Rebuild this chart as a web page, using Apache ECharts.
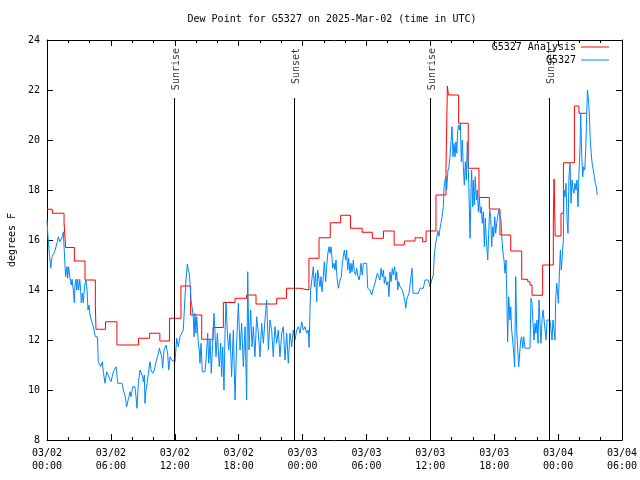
<!DOCTYPE html>
<html><head><meta charset="utf-8">
<script src="https://cdn.jsdelivr.net/npm/echarts/dist/echarts.min.js"></script>
<style>html,body{margin:0;padding:0;background:#fff}#c{width:640px;height:480px}</style>
</head><body><div id="c"></div>
<script>
// ---- data ----
const titleText = 'Dew Point for G5327 on 2025-Mar-02 (time in UTC)';
const xTickLabels = ['03/02\n00:00','03/02\n06:00','03/02\n12:00','03/02\n18:00','03/03\n00:00','03/03\n06:00','03/03\n12:00','03/03\n18:00','03/04\n00:00','03/04\n06:00'];
const seriesNames = ['G5327 Analysis', 'G5327'];
// hours since 03/02 00:00 UTC
const analysisHours = [0,0.5,1.6,1.75,2.57,3.57,4.54,4.6,5.5,6.57,8.6,9.64,10.6,11.5,12.58,13.49,14.53,15.6,16.56,17.66,18.75,19.63,21.57,22.5,23.76,24.6,25.55,26.6,27.58,28.5,29.6,30.55,31.6,32.6,33.56,34.56,35.28,35.6,36.53,37.47,37.6,37.7,38.66,39.56,40.57,41.54,42.54,43.55,44.58,45.15,45.36,45.55,46.55,47.55,47.62,47.68,47.72,48.27,48.5,49.53,49.96,50.7];
const analysisDew = [17.23,17.07,16.7,15.7,15.16,14.4,13.4,12.43,12.73,11.8,12.07,12.27,11.96,12.87,14.16,13.0,12.03,12.5,13.5,13.67,13.8,13.44,13.67,14.07,14.0,15.27,16.09,16.69,16.99,16.47,16.31,16.07,16.36,15.8,15.96,16.09,15.93,16.36,17.8,18.87,22.16,21.8,20.67,18.87,17.7,17.24,16.2,15.56,14.43,14.33,14.2,13.79,15.0,16.73,18.44,17.2,16.16,17.07,19.09,21.36,21.07,21.07];
// observations: [hour, dew point]
const obsPoints = [
[0,16.8],[0.09,16.13],[0.19,15.6],[0.25,15.33],[0.35,14.87],[0.47,15.33],[0.59,15.33],[0.72,15.53],[0.97,15.93],[1.06,16.13],
[1.22,15.93],[1.31,16.0],[1.44,16.13],[1.53,16.33],[1.66,15.24],[1.75,14.53],[1.88,14.93],[1.94,14.47],[2.03,14.93],[2.16,14.47],
[2.28,14.2],[2.35,14.43],[2.47,14.0],[2.57,13.49],[2.63,14.2],[2.72,14.43],[2.79,14.0],[2.88,14.43],[2.97,14.0],[3.07,14.43],
[3.16,14.0],[3.22,13.49],[3.32,13.87],[3.41,13.49],[3.5,14.0],[3.57,14.27],[3.66,14.4],[3.76,14.0],[3.85,13.2],[3.94,13.4],
[4.04,13.0],[4.16,12.8],[4.35,12.53],[4.54,12.13],[4.73,12.13],[4.82,11.13],[4.91,11.07],[5.04,10.93],[5.2,11.13],[5.29,10.73],
[5.45,10.27],[5.6,10.73],[6.01,10.33],[6.23,10.73],[6.48,10.93],[6.54,10.73],[6.64,10.27],[7.04,10.27],[7.17,10.0],[7.36,9.71],
[7.48,9.33],[7.58,9.53],[7.7,9.73],[7.8,9.93],[7.89,9.73],[8.05,10.13],[8.26,10.13],[8.36,9.73],[8.45,9.27],[8.58,10.27],
[8.73,10.8],[8.89,10.8],[8.98,10.53],[9.05,10.33],[9.14,10.6],[9.2,9.47],[9.3,10.0],[9.42,10.33],[9.52,10.67],[9.67,11.13],
[9.77,10.8],[9.92,10.67],[10.08,10.8],[10.24,11.13],[10.46,11.47],[10.55,11.67],[10.68,11.6],[10.77,11.33],[10.86,10.87],[10.99,11.6],
[11.18,11.8],[11.33,11.47],[11.43,10.8],[11.55,11.33],[11.71,11.2],[12.02,11.13],[12.18,12.07],[12.33,11.73],[12.49,12.13],[12.65,12.07],
[12.8,12.4],[12.96,13.73],[13.05,14.4],[13.18,15.04],[13.27,14.8],[13.36,14.67],[13.43,14.27],[13.52,13.6],[13.62,13.33],[13.74,12.93],
[13.81,12.13],[13.9,13.07],[13.99,12.27],[14.06,12.93],[14.21,11.87],[14.3,11.6],[14.37,11.07],[14.46,11.87],[14.59,10.73],[14.84,10.73],
[15.0,11.6],[15.09,12.27],[15.19,11.07],[15.31,12.0],[15.43,10.67],[15.56,11.87],[15.68,13.07],[15.78,12.27],[15.87,11.33],[16.0,12.27],
[16.18,10.93],[16.31,11.87],[16.4,10.53],[16.5,11.73],[16.62,10.0],[16.72,12.27],[16.81,13.53],[16.94,12.27],[17.06,11.6],[17.19,12.27],
[17.34,10.53],[17.5,12.4],[17.66,9.6],[17.81,11.87],[17.97,13.47],[18.13,11.6],[18.28,12.67],[18.44,10.93],[18.6,12.53],[18.75,9.6],
[18.85,14.73],[18.97,11.6],[19.13,13.2],[19.25,11.73],[19.38,12.53],[19.53,11.33],[19.69,12.93],[19.85,12.27],[20.0,11.33],[20.16,12.67],
[20.32,11.87],[20.47,12.8],[20.63,13.6],[20.79,11.6],[20.94,12.8],[21.1,12.4],[21.25,11.33],[21.41,12.53],[21.57,11.87],[21.72,12.4],
[21.88,11.33],[22.04,12.27],[22.19,12.53],[22.35,11.2],[22.51,12.27],[22.66,11.07],[22.82,12.27],[22.98,11.73],[23.13,12.4],[23.29,12.0],
[23.45,12.4],[23.6,12.53],[23.76,12.27],[23.92,12.73],[24.07,12.4],[24.23,12.53],[24.39,12.27],[24.54,12.4],[24.61,11.7],[24.7,13.27],
[24.76,14.0],[24.89,14.0],[25.01,14.93],[25.11,14.13],[25.23,14.67],[25.33,13.53],[25.42,14.8],[25.51,14.8],[25.64,14.13],[25.73,14.53],
[25.83,13.93],[25.95,14.53],[26.04,15.13],[26.17,14.33],[26.26,14.93],[26.36,15.4],[26.48,15.73],[26.58,15.47],[26.67,15.73],[26.77,15.27],
[26.83,14.87],[26.95,15.07],[27.05,14.8],[27.14,15.2],[27.23,14.53],[27.36,14.07],[27.52,14.4],[27.64,14.53],[27.73,15.07],[27.83,15.33],
[27.92,15.6],[28.05,15.2],[28.14,15.6],[28.24,14.8],[28.33,15.27],[28.46,14.67],[28.55,15.07],[28.64,14.73],[28.77,15.2],[28.86,14.73],
[28.99,14.6],[29.08,14.87],[29.18,14.6],[29.3,14.4],[29.4,14.6],[29.49,15.07],[29.61,14.6],[29.71,15.07],[30.02,15.07],[30.12,14.07],
[30.33,14.0],[30.49,13.8],[30.65,14.07],[30.8,14.27],[30.9,14.33],[31.02,14.67],[31.15,14.73],[31.27,14.4],[31.37,14.87],[31.49,14.53],
[31.59,14.8],[31.68,14.27],[31.77,14.53],[31.9,14.2],[32.02,14.33],[32.12,13.73],[32.21,14.73],[32.31,14.33],[32.43,14.87],[32.52,14.6],
[32.65,14.93],[32.75,14.4],[32.84,14.73],[32.94,14.0],[33.03,14.33],[33.15,14.13],[33.37,14.0],[33.46,13.93],[33.59,13.6],[33.69,13.27],
[33.78,13.6],[33.87,13.73],[34.0,13.87],[34.18,13.87],[34.28,14.87],[34.37,13.87],[34.87,13.87],[35.03,14.07],[35.34,14.07],[35.5,14.4],
[35.81,14.4],[35.97,14.13],[36.13,14.4],[36.28,14.6],[36.37,15.4],[36.5,15.87],[36.6,16.07],[36.69,16.37],[36.81,16.15],[36.91,16.47],
[37.0,16.67],[37.1,16.93],[37.22,17.33],[37.28,18.07],[37.38,18.4],[37.47,18.53],[37.53,18.0],[37.66,18.8],[37.75,18.93],[37.85,19.33],
[37.94,19.4],[38.04,20.53],[38.13,19.33],[38.22,19.87],[38.32,19.33],[38.41,19.93],[38.48,19.47],[38.57,20.33],[38.66,20.6],[38.73,20.4],
[38.82,20.67],[38.91,19.13],[39.0,20.0],[39.1,18.93],[39.19,18.2],[39.29,19.13],[39.38,18.4],[39.47,19.93],[39.6,18.4],[39.73,16.07],
[39.82,18.0],[39.88,18.8],[39.98,17.33],[40.04,18.4],[40.13,17.4],[40.22,18.53],[40.32,17.6],[40.41,18.0],[40.51,17.13],[40.6,17.73],
[40.69,17.07],[40.79,17.33],[40.88,16.67],[40.98,17.13],[41.07,15.73],[41.16,16.87],[41.26,16.0],[41.39,15.2],[41.48,16.27],[41.57,17.2],
[41.67,16.93],[41.76,15.73],[41.86,16.53],[41.95,16.13],[42.05,16.93],[42.14,16.27],[42.23,16.67],[42.33,16.93],[42.42,17.2],[42.54,17.2],
[42.64,16.8],[42.73,16.0],[42.83,15.47],[42.92,15.2],[43.01,14.67],[43.11,15.2],[43.17,14.0],[43.26,11.93],[43.36,13.73],[43.48,12.8],
[43.55,13.33],[43.64,12.4],[43.73,12.0],[43.83,11.47],[43.92,10.93],[44.02,14.53],[44.11,12.4],[44.21,11.6],[44.3,10.93],[44.39,11.47],
[44.49,12.0],[44.58,12.13],[44.68,11.67],[44.77,12.13],[44.89,11.67],[45.36,11.67],[45.45,13.67],[45.55,13.47],[45.64,12.67],[45.74,12.0],
[45.83,12.67],[45.92,12.27],[46.02,12.8],[46.11,11.87],[46.21,13.6],[46.3,12.67],[46.39,11.87],[46.49,12.8],[46.58,13.2],[46.68,12.8],
[46.87,12.0],[46.96,12.8],[47.24,12.8],[47.33,12.4],[47.43,12.0],[47.52,12.8],[47.61,12.8],[47.71,12.0],[47.77,13.6],[47.87,14.27],
[47.96,13.87],[48.02,13.47],[48.11,14.53],[48.21,15.6],[48.3,14.8],[48.39,15.33],[48.49,16.0],[48.55,18.0],[48.65,17.73],[48.74,18.27],
[48.84,16.8],[48.93,16.27],[49.02,18.53],[49.12,19.07],[49.21,17.47],[49.31,18.4],[49.4,18.0],[49.49,17.87],[49.59,18.27],[49.68,18.0],
[49.77,18.4],[49.87,17.33],[49.96,18.67],[50.06,19.73],[50.12,21.07],[50.22,19.33],[50.31,18.53],[50.4,18.93],[50.5,18.8],[50.59,19.6],
[50.69,21.07],[50.75,22.0],[50.84,21.67],[50.93,21.07],[51.02,20.0],[51.12,19.4],[51.21,19.0],[51.31,18.8],[51.4,18.53],[51.49,18.27],
[51.59,18.13],[51.68,17.8]
];
const sunHours = [11.93, 23.2, 35.97, 47.14];
const sunNames = ['Sunrise', 'Sunset', 'Sunrise', 'Sunset'];

// ---- chart ----
const FONT = 'DejaVu Sans Mono';
const LINE_TOP = 21.68;
const LABEL_TOP = 23.68;
const chart = echarts.init(document.getElementById('c'), null, {renderer: 'canvas'});
const black = '#000';
function xAxisBase(pos, showLabel) {
  return {
    type: 'value', min: 0, max: 54, interval: 6, position: pos,
    axisLine: {show: true, onZero: false, lineStyle: {color: black, width: 1}},
    axisTick: {show: true, inside: true, length: 6, lineStyle: {color: black}},
    minorTick: {show: true, splitNumber: 3, length: 3, lineStyle: {color: black}},
    splitLine: {show: false}, minorSplitLine: {show: false},
    axisLabel: {show: showLabel, formatter: v => xTickLabels[Math.round(v / 6)],
      fontFamily: FONT, fontSize: 10, color: black, margin: 7, lineHeight: 13}
  };
}
function yAxisBase(pos, showLabel) {
  return {
    type: 'value', min: 8, max: 24, interval: 2, position: pos,
    axisLine: {show: true, onZero: false, lineStyle: {color: black, width: 1}},
    axisTick: {show: true, inside: true, length: 6, lineStyle: {color: black}},
    splitLine: {show: false},
    axisLabel: {show: showLabel, fontFamily: FONT, fontSize: 10, color: black, margin: 7}
  };
}
const yLeft = yAxisBase('left', true);
yLeft.name = 'degrees F';
yLeft.nameLocation = 'middle';
yLeft.nameGap = 30;
yLeft.nameRotate = 90;
yLeft.nameTextStyle = {fontFamily: FONT, fontSize: 10, color: black};

chart.setOption({
  animation: false,
  backgroundColor: '#fff',
  title: {text: titleText, left: 332, top: 14, padding: 0, textAlign: 'center',
    textStyle: {fontFamily: FONT, fontSize: 10, fontWeight: 'normal', color: black}},
  grid: {left: 47, right: 18, top: 40, bottom: 40, containLabel: false, outerBoundsMode: 'none'},
  legend: {orient: 'vertical', right: 31, top: 42, align: 'right', itemWidth: 28, itemHeight: 1, itemGap: 3,
    icon: 'rect', padding: 0, data: seriesNames, textStyle: {fontFamily: FONT, fontSize: 10, color: black}},
  xAxis: [xAxisBase('bottom', true), xAxisBase('top', false)],
  yAxis: [yLeft, yAxisBase('right', false)],
  series: [
    {name: seriesNames[0], type: 'line', step: 'end', symbol: 'none', xAxisIndex: 0, yAxisIndex: 0,
      data: analysisHours.map((h, i) => [h, analysisDew[i]]),
      lineStyle: {color: '#ff0000', width: 1}, itemStyle: {color: '#ff0000'}},
    {name: seriesNames[1], type: 'line', symbol: 'none', xAxisIndex: 0, yAxisIndex: 0,
      data: obsPoints,
      lineStyle: {color: '#0088ff', width: 1}, itemStyle: {color: '#0088ff'}},
    {name: 'sun', type: 'scatter', symbolSize: 0, silent: true, xAxisIndex: 0, yAxisIndex: 0,
      data: sunHours.map((h, i) => ({value: [h, LABEL_TOP], name: sunNames[i]})),
      label: {show: true, position: 'inside', formatter: '{b}', rotate: 90, align: 'right', verticalAlign: 'middle',
        offset: [0, 2], fontFamily: FONT, fontSize: 10, color: black},
      markLine: {silent: true, symbol: ['none', 'none'], label: {show: false},
        lineStyle: {color: black, width: 1, type: 'solid'},
        data: sunHours.map(h => [{coord: [h, 8]}, {coord: [h, LINE_TOP]}])}}
  ]
});
</script></body></html>
